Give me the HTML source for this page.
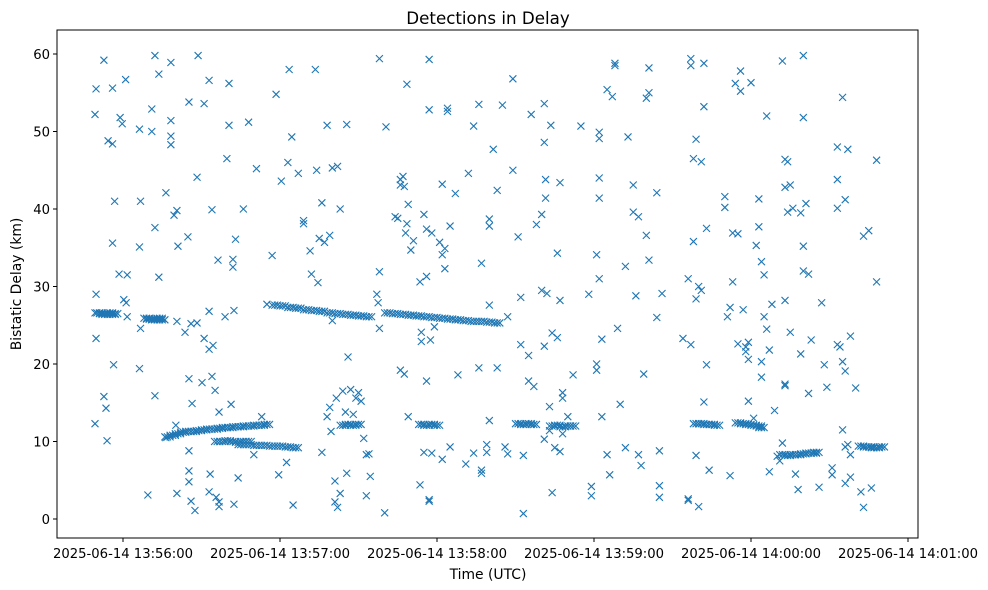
<!DOCTYPE html>
<html><head><meta charset="utf-8"><style>
body{margin:0;background:#fff;}
svg{display:block;font-family:"DejaVu Sans","Liberation Sans",sans-serif;}
</style></head><body>
<svg id="chart" width="988" height="590">
<text x="488" y="24" text-anchor="middle" font-size="16.7" fill="#000">Detections in Delay</text>
<text x="488" y="579" text-anchor="middle" font-size="13.9" fill="#000">Time (UTC)</text>
<text transform="translate(21,284) rotate(-90)" text-anchor="middle" font-size="13.9" fill="#000">Bistatic Delay (km)</text>
<g id="marks"></g>
<g id="axes"></g>
</svg>
<script>
// seconds after 13:55:00 UTC
const xTickSecs = [60,120,180,240,300,360];
const xTickLabels = ["2025-06-14 13:56:00","2025-06-14 13:57:00","2025-06-14 13:58:00","2025-06-14 13:59:00","2025-06-14 14:00:00","2025-06-14 14:01:00"];
const yTicks = [0,10,20,30,40,50,60];
const yTickLabels = ["0","10","20","30","40","50","60"];
const scatterTimes = [49.3,49.7,49.7,49.3,49.7,49.3,52.7,52.7,53.5,53.9,54.3,56,56,56,56.4,56.8,58.5,58.9,59.7,61,60.3,61.6,61.6,61.2,66.3,66.3,66.7,66.7,66.3,69.5,71,71,72.2,72.2,72.2,73.7,73.7,76.4,76.4,78.3,78.3,78.3,78.3,79.5,80.6,81,80.6,80.6,80.2,83.7,84.8,85.2,85.2,85.2,85.2,85.2,86,86.4,86,87.5,88.3,88.7,88.3,91,90.2,91,92.9,92.9,92.9,92.9,93.3,94.4,94,94,95.2,95.6,96.7,96.7,96.7,96.3,99.7,100.5,100.5,99,101.3,102,102,103,102.4,102.4,104,106,108,110,111,113,115,117,119.5,118.5,120.5,122.5,123,123.5,124.5,125,127,129,129,131.5,132,134,134.5,133.5,135,136,136,137,138,139,138,139,140,140,139.5,141,141,141.5,142,143,143,142,144,145,145.5,145.5,146,147,148,149,150,151,152,153,153,154,154.5,157,157.5,158,158,158,160,160.5,
164,165,166,166,166,167,167.5,167.5,168,168.5,168.5,169,169,170,171,
173.5,174,173.5,174,175,175,176,176,176,177,177,177,177,177.5,178,178,
179,182,181,182,182,183,183,184,184,185,185,187,188,
191,192,194,194,196,196,197,197,197,199,199,200,200,200,200,
201.5,203,203,205,206,207,207,209,209,
211,212,213,212,213,215,215,216,217,218,
220,220,221,221,221,221.5,221.5,222,221,223,223.5,223,224,224,225,226,226,227,227,227,228,228,
228,230,232,235,238,239,239,
241,241,241,242,242,242,242,242,243,243,245,245,246,247,248,248,249,250,
252,253,252,255,255,256,257,257,258,259,260,260,261,261,261,264,264,265,265,265,266,
274,276,276,276,277,277,277,278,278,279,279,279,280,280,281,281,282,282,282,283,283,284,
290,290,293,291,292,293,292,294,295,295,296,296,297,298,298,299,299,299,300,301,302,303,303,304,304,304,305,305,306,306,307,307,
308,309,310,312,313,313,313,312,313,314,313,314,311,315,315,316,317,318,319,320,319,320,320,321,320,322,323,322,
326,327,328,329,331,331,333,333,333,333,334,335,336,335,336,335,337,336,336,337,338,338,338,340,342,343,343,345,346,346,348,348];
const scatterKm = [52.2,55.5,29,26.6,23.3,12.3,59.2,15.8,14.3,10.1,48.8,48.4,55.6,35.6,19.9,41,31.6,51.8,51,56.7,28.3,31.5,26.1,27.9,50.3,35.1,41,24.6,19.4,3.1,50,52.9,59.8,37.6,15.9,57.4,31.2,42.1,10.5,58.9,51.4,49.4,48.3,39.2,39.8,35.2,25.5,3.3,12.1,24.1,36.4,53.8,18.1,8.8,6.2,4.8,25.2,14.9,2.3,1.1,44.1,59.8,25.3,23.3,17.6,53.6,21.9,56.6,26.8,3.5,5.8,22.4,39.9,18.4,16.6,2.8,1.6,2.2,13.8,33.4,46.5,50.8,56.2,26.1,14.8,33.5,32.5,36.1,26.9,1.9,5.3,40,51.2,8.3,45.2,13.2,27.7,34,5.7,54.8,43.6,7.3,46,58,49.3,1.8,44.6,38.5,38.1,34.6,31.6,45,30.5,58,36.2,8.6,40.8,35.7,50.8,36.6,13.2,14.4,45.3,25.6,11.3,4.9,2.2,15.6,45.5,40,3.3,1.5,16.5,13.8,5.9,50.9,20.9,16.7,13.5,15.6,16.3,15.2,10.4,8.3,3,8.4,5.5,29,27.9,24.6,31.9,59.4,0.8,50.6,39,38.8,43.1,43.8,19.2,44.2,42.9,18.7,36.9,38.1,56.1,40.6,13.2,34.7,35.9,30.6,24.1,4.4,22.9,39.3,8.6,37.4,31.3,17.8,2.5,59.3,52.8,2.3,23.1,36.9,8.5,24.8,43.2,35.7,34.1,7.7,34.9,32.3,53,52.6,37.8,9.3,42,18.6,7.1,44.6,50.7,8.5,53.5,19.5,33,6.3,5.9,9.6,8.6,38.7,37.8,27.6,12.7,47.7,42.4,19.5,53.4,9.3,8.4,26.1,56.8,45,36.4,22.5,0.7,28.6,8.2,21.1,17.8,52.2,17.1,38,29.5,39.3,22.3,53.6,48.6,43.8,41.4,29.1,10.3,14.5,50.8,11.4,24,3.4,9.2,34.3,23.4,43.4,8.7,28.2,16.3,15.6,11,13.2,18.6,50.7,29,3,4.2,19.2,20,34.1,31,49.9,49.1,44,41.4,23.2,13.2,55.4,8.3,5.7,54.5,58.5,58.8,24.6,14.8,32.6,49.3,9.2,43.1,39.6,28.8,8.3,39,6.9,18.7,54.3,36.6,55,58.2,33.4,42.1,26,2.8,4.3,8.8,29.1,23.3,2.6,2.4,31,58.5,59.4,22.5,46.5,35.8,49,28.4,8.2,1.6,30,29.5,46.1,58.8,53.2,15.1,19.9,37.5,6.3,40.2,41.6,36.9,26.1,5.6,30.6,27.3,56.2,22.6,36.8,55.2,57.8,27,21.6,22.2,15.2,22.8,20.6,56.3,13,35.3,37.7,41.3,33.2,18.3,20.3,26.1,31.5,52,24.5,6.1,21.8,27.7,14,8.1,59.1,17.2,17.4,28.2,9.8,46.4,46.1,42.8,39.6,7.5,43.1,24.1,40.1,5.8,3.8,39.5,51.8,21.3,35.2,59.8,40.7,32,31.6,23.1,16.2,4.1,27.9,19.9,17,5.7,6.6,22.5,40.1,43.8,48,22.2,20.3,9.3,11.5,19.1,54.4,47.7,4.6,41.2,9.6,5.4,23.6,8.3,16.9,3.5,36.5,1.5,37.2,9.2,4.0,46.3,30.6];
// dense track detections
const trackTimes = [50,51,52,53,54,55,56,68,69,70,71,72,73,74,76,78,80,82,84,86,88,90,92,94,96,98,100,102,104,106,108,110,112,114,95,97,99,101,103,105,107,104,107,110,113,116,119,122,125,117,120,123,126,129,132,135,138,141,144,147,150,153,160,163,166,169,172,175,178,181,184,187,190,193,196,199,202,143,145,147,149,173,175,177,179,210,212,214,216,223,225,227,229,231,278,280,282,284,286,294,296,298,300,302,303,311,313,315,317,319,321,323,324,341,343,345,347,349];
const trackKm = [26.6,26.5,26.4,26.5,26.6,26.4,26.5,25.9,25.8,25.8,25.7,25.8,25.9,25.7,10.6,10.8,11.0,11.2,11.3,11.3,11.4,11.5,11.6,11.6,11.7,11.8,11.8,11.9,11.9,12.0,12.0,12.1,12.1,12.2,10.0,10.0,10.1,10.0,9.9,10.0,10.0,9.6,9.6,9.5,9.5,9.4,9.4,9.3,9.2,27.6,27.5,27.3,27.2,27.0,26.9,26.8,26.6,26.5,26.4,26.3,26.2,26.1,26.6,26.5,26.4,26.3,26.2,26.1,26.0,25.9,25.8,25.7,25.6,25.5,25.5,25.4,25.3,12.1,12.2,12.1,12.2,12.2,12.1,12.2,12.1,12.3,12.2,12.3,12.2,12.0,12.1,11.9,12.0,12.0,12.3,12.3,12.2,12.2,12.1,12.4,12.3,12.2,12.1,12.0,11.8,8.3,8.2,8.3,8.3,8.4,8.5,8.5,8.6,9.4,9.3,9.3,9.2,9.3];

const L=57,R=918,T=30,B=538;
function xS(s){return 123+(s-60)*785/300;}
function yS(k){return 519-k*465/60;}
const NS="http://www.w3.org/2000/svg";
const marks=document.getElementById('marks');
function mark(s,k){
  const x=xS(s),y=yS(k),d=3.5;
  const p=document.createElementNS(NS,'path');
  p.setAttribute('d',`M${x-d},${y-d}L${x+d},${y+d}M${x-d},${y+d}L${x+d},${y-d}`);
  p.setAttribute('stroke','#1f77b4');p.setAttribute('stroke-width','1.1');
  
  
  marks.appendChild(p);
}
scatterTimes.forEach((s,i)=>mark(s,scatterKm[i]));
trackTimes.forEach((s,i)=>{mark(s,trackKm[i]);mark(s+1,trackKm[i]);mark(s+2,trackKm[i]);});
const axes=document.getElementById('axes');
const fr=document.createElementNS(NS,'rect');
fr.setAttribute('x',L);fr.setAttribute('y',T);fr.setAttribute('width',R-L);fr.setAttribute('height',B-T);
fr.setAttribute('fill','none');fr.setAttribute('stroke','#000');fr.setAttribute('stroke-width','1');


axes.appendChild(fr);
yTicks.forEach((v,i)=>{
  const y=yS(v);
  const l=document.createElementNS(NS,'line');
  l.setAttribute('x1',L-4);l.setAttribute('x2',L);l.setAttribute('y1',y);l.setAttribute('y2',y);l.setAttribute('stroke','#000');
  
  
  axes.appendChild(l);
  const t=document.createElementNS(NS,'text');
  t.setAttribute('x',L-7);t.setAttribute('y',y+5);t.setAttribute('text-anchor','end');t.setAttribute('font-size','13.2');
  t.textContent=yTickLabels[i];
  
  
  axes.appendChild(t);
});
xTickSecs.forEach((v,i)=>{
  const x=xS(v);
  const l=document.createElementNS(NS,'line');
  l.setAttribute('x1',x);l.setAttribute('x2',x);l.setAttribute('y1',B);l.setAttribute('y2',B+4);l.setAttribute('stroke','#000');
  
  
  axes.appendChild(l);
  const t=document.createElementNS(NS,'text');
  t.setAttribute('x',x);t.setAttribute('y',B+20);t.setAttribute('text-anchor','middle');t.setAttribute('font-size','13.2');
  t.textContent=xTickLabels[i];
  
  
  axes.appendChild(t);
});
</script>
</body></html>
